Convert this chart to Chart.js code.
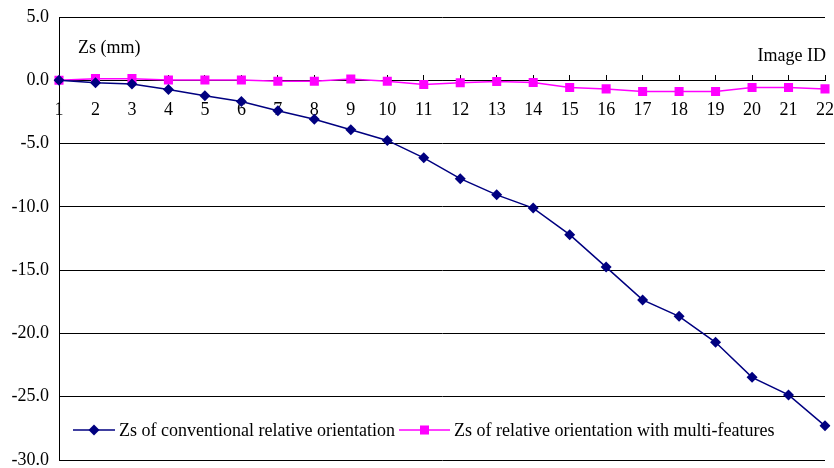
<!DOCTYPE html>
<html>
<head>
<meta charset="utf-8">
<script src="https://cdn.jsdelivr.net/npm/chart.js@4/dist/chart.umd.min.js"></script>
<style>
  html,body{margin:0;padding:0;background:#fff;}
  #wrap{width:834px;height:468px;position:relative;}
</style>
</head>
<body>
<div id="wrap"><canvas id="c" width="834" height="468"></canvas></div>
<script>
// data
const IMAGE_IDS = ["1","2","3","4","5","6","7","8","9","10","11","12","13","14","15","16","17","18","19","20","21","22"];
const ZS_CONVENTIONAL = [0,-0.2,-0.3,-0.73,-1.23,-1.67,-2.4,-3.08,-3.91,-4.75,-6.13,-7.77,-9.05,-10.1,-12.2,-14.76,-17.35,-18.65,-20.7,-23.47,-24.86,-27.3];
const ZS_MULTI = [0,0.13,0.13,0.03,0.02,0.02,-0.08,-0.08,0.1,-0.08,-0.34,-0.2,-0.1,-0.18,-0.57,-0.68,-0.89,-0.89,-0.89,-0.57,-0.57,-0.68];
const Y_TICKS = [5,0,-5,-10,-15,-20,-25,-30];

const FONT = "'Liberation Serif','Times New Roman',serif";
const NAVY = "#000080", MAGENTA = "#FF00FF";

function drawMarker(ctx, style, x, y, r, color){
  ctx.save(); ctx.fillStyle=color; ctx.beginPath();
  if(style==="rectRot"){ ctx.moveTo(x,y-r); ctx.lineTo(x+r,y); ctx.lineTo(x,y+r); ctx.lineTo(x-r,y); }
  else { const s=r*Math.SQRT1_2; ctx.rect(x-s,y-s,2*s,2*s); }
  ctx.closePath(); ctx.fill(); ctx.restore();
}

// axis captions + in-plot legend
const overlay = {
  id:"overlay",
  afterDraw(chart){
    const ctx=chart.ctx, a=chart.chartArea;
    ctx.save();
    ctx.font="18px "+FONT; ctx.fillStyle="#000"; ctx.textBaseline="alphabetic";
    ctx.textAlign="left"; ctx.fillText("Zs (mm)", a.left+19, a.top+36);
    ctx.textAlign="right"; ctx.fillText("Image ID", a.right+1, a.top+44);
    const items=[{x:a.left+14,w:42},{x:a.left+340,w:51}];
    chart.data.datasets.forEach((ds,i)=>{
      const it=items[i], y=a.bottom-30;
      ctx.strokeStyle=ds.borderColor; ctx.lineWidth=1.5;
      ctx.beginPath(); ctx.moveTo(it.x,y); ctx.lineTo(it.x+it.w,y); ctx.stroke();
      drawMarker(ctx, ds.pointStyle, it.x+it.w/2, y, ds.pointRadius, ds.borderColor);
      ctx.fillStyle="#000"; ctx.textAlign="left"; ctx.textBaseline="middle";
      ctx.fillText(ds.label, it.x+it.w+4, y+1);
    });
    ctx.restore();
  }
};

new Chart(document.getElementById("c"), {
  type:"line",
  data:{
    labels: IMAGE_IDS,
    datasets:[
      {label:"Zs of conventional relative orientation", data:ZS_CONVENTIONAL, borderColor:NAVY, backgroundColor:NAVY,
       borderWidth:1.5, pointStyle:"rectRot", pointRadius:5.5, pointBorderWidth:0, tension:0},
      {label:"Zs of relative orientation with multi-features", data:ZS_MULTI, borderColor:MAGENTA, backgroundColor:MAGENTA,
       borderWidth:1.5, pointStyle:"rect", pointRadius:6.4, pointBorderWidth:0, tension:0}
    ]
  },
  options:{
    responsive:false, animation:false,
    layout:{padding:{top:17,right:9,bottom:8,left:0}},
    plugins:{legend:{display:false}, tooltip:{enabled:false}},
    scales:{
      x:{
        type:"category", offset:false, position:{y:0},
        afterFit(s){ s.height=0; s.paddingLeft=0; s.paddingRight=0; },
        grid:{drawOnChartArea:false, drawTicks:true, tickLength:-6, color:"#000", lineWidth:1},
        border:{color:"#000", width:1},
        ticks:{color:"#000", font:{family:FONT,size:18}, padding:25, maxRotation:0, autoSkip:false}
      },
      y:{
        min:-30, max:5,
        afterBuildTicks(s){ s.ticks = Y_TICKS.map(v=>({value:v})); },
        afterFit(s){ s.width=59; s.paddingTop=0; s.paddingBottom=0; },
        grid:{color:"#000", lineWidth:1, drawTicks:false},
        border:{color:"#000", width:1},
        ticks:{color:"#000", font:{family:FONT,size:18}, padding:10, callback:v=>Number(v).toFixed(1)}
      }
    }
  },
  plugins:[overlay]
});
</script>
</body>
</html>
